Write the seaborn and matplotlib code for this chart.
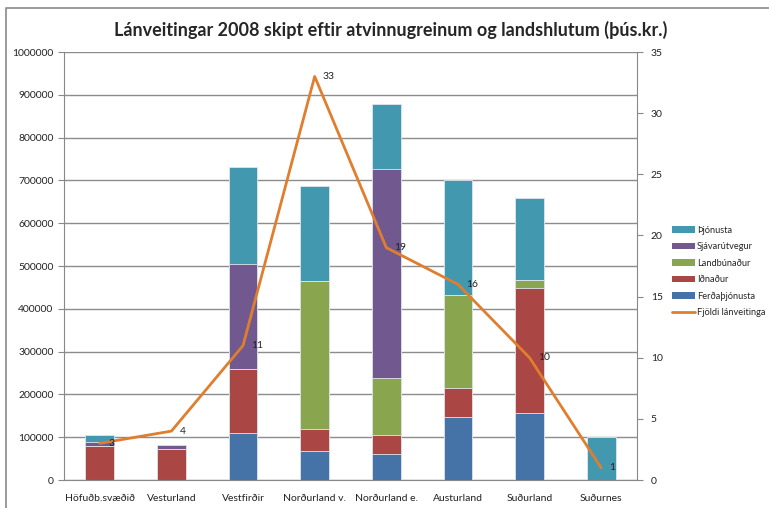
import numpy as np
import pandas as pd
import seaborn as sns
import matplotlib.pyplot as plt
from matplotlib.patches import Patch
from matplotlib.lines import Line2D

regions = ["Höfuðb.svæðið", "Vesturland", "Vestfirðir", "Norðurland v.",
           "Norðurland e.", "Austurland", "Suðurland", "Suðurnes"]

# þús.kr. per atvinnugrein
ferdathjonusta = [0, 0, 109000, 68000, 61000, 147000, 156000, 0]
idnadur = [80000, 72000, 150000, 51000, 43000, 69000, 292000, 0]
landbunadur = [0, 0, 0, 346000, 134000, 216000, 19000, 0]
sjavarutvegur = [9000, 9000, 245000, 0, 489000, 0, 0, 0]
thjonusta = [17000, 0, 227000, 222000, 152000, 270000, 193000, 100000]

fjoldi = [3, 4, 11, 33, 19, 16, 10, 1]

series = [("Ferðaþjónusta", ferdathjonusta, "#4572A7"),
          ("Iðnaður", idnadur, "#AA4643"),
          ("Landbúnaður", landbunadur, "#89A54E"),
          ("Sjávarútvegur", sjavarutvegur, "#71588F"),
          ("Þjónusta", thjonusta, "#4198AF")]
line_color = "#E07E2E"

sns.set_style("white")
plt.rcParams['font.family'] = ['Lato', 'DejaVu Sans']

fig = plt.figure(figsize=(7.69, 5.08), dpi=100)
ax = fig.add_axes([64 / 769, 1 - 480 / 508, (637 - 64) / 769, (480 - 52) / 508])

# stacked bars: draw cumulative totals from the top down
cum = np.cumsum([s[1] for s in series], axis=0)
for i in range(len(series) - 1, -1, -1):
    df = pd.DataFrame({"region": regions, "value": cum[i]})
    sns.barplot(data=df, x="region", y="value", color=series[i][2], saturation=1,
                width=0.4, edgecolor="#dfe6ee", linewidth=0.6, ax=ax, zorder=2)

ax.set_ylim(0, 1000000)
ax.set_xlim(-0.5, len(regions) - 0.5)
ax.set_yticks(np.arange(0, 1000001, 100000))
ax.set_yticklabels([str(v) for v in range(0, 1000001, 100000)])
ax.yaxis.grid(True, color="#8c8c8c", linewidth=1)
ax.set_axisbelow(True)
ax.set_xlabel("")
ax.set_ylabel("")
ax.set_xticks(np.arange(len(regions)))
ax.set_xticklabels(regions)
ax.set_xticks(np.arange(-0.5, len(regions) + 0.5, 1), minor=True)
ax.tick_params(axis="x", which="major", length=0, labelsize=7.5, pad=10, labelcolor="#222222")
ax.tick_params(axis="x", which="minor", length=4, direction="out", color="#888888")
ax.tick_params(axis="y", length=4, direction="out", color="#888888", labelsize=7.5,
               labelcolor="#222222")
for side in ["top", "right"]:
    ax.spines[side].set_visible(False)
for side in ["left", "bottom"]:
    ax.spines[side].set_color("#888888")

# number of loans on secondary axis
ax2 = ax.twinx()
ldf = pd.DataFrame({"pos": np.arange(len(regions)), "fjoldi": fjoldi})
sns.lineplot(data=ldf, x="pos", y="fjoldi", color=line_color, linewidth=2, ax=ax2)
for x, v in zip(ldf["pos"], fjoldi):
    ax2.annotate(str(v), (x, v), xytext=(6, 0), textcoords="offset points",
                 ha="left", va="center", fontsize=7.5, color="#222222")
ax2.set_ylim(0, 35)
ax2.set_yticks(range(0, 36, 5))
ax2.set_ylabel("")
ax2.set_xlabel("")
ax2.tick_params(axis="y", length=4, direction="out", color="#888888", labelsize=7.5,
                labelcolor="#222222", pad=6)
for side in ["top", "left", "bottom"]:
    ax2.spines[side].set_visible(False)
ax2.spines["right"].set_color("#888888")
ax2.set_xlim(-0.5, len(regions) - 0.5)

fig.suptitle("Lánveitingar 2008 skipt eftir atvinnugreinum og landshlutum (þús.kr.)",
             x=391 / 769, y=1 - 30 / 508, va="center", fontsize=13, fontweight="bold")

handles = [Patch(facecolor=c, edgecolor="none") for _, _, c in reversed(series)]
labels = [n for n, _, _ in reversed(series)]
handles.append(Line2D([0], [0], color=line_color, linewidth=2))
labels.append("Fjöldi lánveitinga")
fig.legend(handles, labels, loc="upper left", bbox_to_anchor=(672 / 769, 1 - 226 / 508),
           frameon=False, fontsize=6.7, handlelength=2.5, handleheight=0.7,
           handletextpad=0.15, labelspacing=0.8, borderaxespad=0, borderpad=0)

# chart area border (top and left edges visible in the crop)
fig.add_artist(Line2D([6 / 769, 6 / 769, 1], [0, 1 - 7.5 / 508, 1 - 7.5 / 508],
                      transform=fig.transFigure, color="#8a8a8a", linewidth=1.2))

fig.savefig("out.png", dpi=100)
